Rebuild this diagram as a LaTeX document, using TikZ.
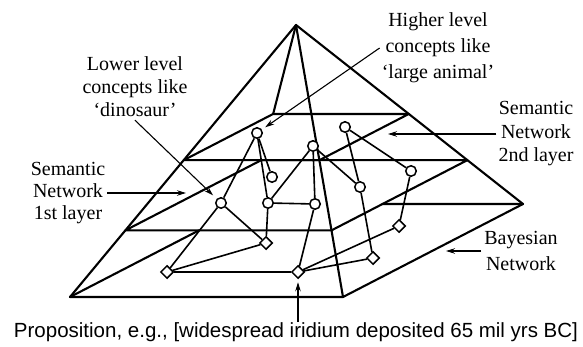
\documentclass[tikz,border=0pt]{standalone}
\usepackage{fontspec}
\setmainfont{Liberation Serif}
\newfontfamily\propfont{Liberation Sans}
\usepackage{tikz}
\usetikzlibrary{shapes.geometric, arrows.meta, calc}

\begin{document}
\begin{tikzpicture}[x=1pt, y=-1pt,
  aresta/.style={line width=2.1pt, line cap=round, line join=round},
  conceito/.style={circle, draw, fill=white, line width=1.5pt, minimum size=10.5pt, inner sep=0pt},
  evidencia/.style={diamond, draw, fill=white, line width=1.5pt, minimum size=13pt, inner sep=0pt},
  ligacao/.style={line width=1.6pt},
  seta/.style={line width=1.1pt, -{Stealth[length=9pt, width=5.5pt]}},
  rotulo/.style={font=\fontsize{20}{23}\selectfont, align=center, inner sep=0pt}]
\useasboundingbox (0,0) rectangle (583,347);

% Pirâmide
\coordinate (topo) at (296,25);
\coordinate (bE) at (70,297);   % base: esquerda
\coordinate (bF) at (343,297);  % base: frente
\coordinate (bD) at (523,204);  % base: direita
\coordinate (bT) at (250,204);  % base: trás
% Camadas (cortes da pirâmide)
\foreach \cam/\fr in {1/0.497, 2/0.755} {
  \coordinate (c\cam E) at ($(topo)!\fr!(bE)$);
  \coordinate (c\cam F) at ($(topo)!\fr!(bF)$);
  \coordinate (c\cam D) at ($(topo)!\fr!(bD)$);
  \coordinate (c\cam T) at ($(topo)!\fr!(bT)$);
}
\draw[aresta] (bE) -- (topo) -- (bD);
\draw[aresta] (topo) -- (bF);
\draw[aresta] (bE) -- (bF) -- (bD);
\draw[aresta] (topo) -- (c1T);  % aresta de trás, só até a 1a camada
\draw[aresta] (c1E) -- (c1T) -- (c1D) -- (c1F) -- cycle;
\draw[aresta] (c2E) -- (c2T) -- (c2D) -- (c2F) -- cycle;
% partes visíveis das arestas de trás da base
\draw[aresta] (bE) -- (intersection of bE--bT and c2E--c2F);
\draw[aresta] (bD) -- (intersection of bD--bT and c2F--c2D);

% Rede semântica - 2a camada
\node[conceito] (s1) at (257,133) {};
\node[conceito] (s2) at (345,127) {};
\node[conceito] (s3) at (313,146) {};
% Rede semântica - 1a camada
\node[conceito] (p1) at (221,203) {};
\node[conceito] (p2) at (268,203) {};
\node[conceito] (p3) at (315,204) {};
\node[conceito] (p4) at (272,177) {};
\node[conceito] (p5) at (360,187) {};
\node[conceito] (p6) at (411,171) {};
% Rede bayesiana
\node[evidencia] (b1) at (167,272) {};
\node[evidencia] (b2) at (266,243) {};
\node[evidencia] (b3) at (298,272) {};
\node[evidencia] (b4) at (373,258) {};
\node[evidencia] (b5) at (399,226) {};

% Ligações
\foreach \de/\para in {s1/p1, s1/p2, s1/p4, s3/p2, s3/p3, s3/p5, s2/p5, s2/p6, p2/p3,
    p1/b1, p1/b2, p2/b2, p3/b3, p5/b4, p6/b5, b1/b2, b1/b3, b3/b4, b3/b5}
  \draw[ligacao] (\de) -- (\para);

% Rótulos
\node[rotulo] (baixo) at (135,87) {Lower level\\concepts like\\`dinosaur'};
\node[rotulo, font=\fontsize{20}{26}\selectfont] (alto) at (438,48) {Higher level\\concepts like\\`large animal'};
\node[rotulo, font=\fontsize{20}{23.5}\selectfont] (sem2) at (536,134) {Semantic\\Network\\2nd layer};
\node[rotulo, font=\fontsize{20}{22}\selectfont] (sem1) at (68,193) {Semantic\\Network\\1st layer};
\node[rotulo, font=\fontsize{20}{26}\selectfont] (bayes) at (521,251) {Bayesian\\Network};
\node[rotulo, font=\propfont\fontsize{20.5}{24}\selectfont] (prop) at (296,332) {Proposition, e.g., [widespread iridium deposited 65 mil yrs BC]};

% Setas dos rótulos
\coordinate (alvo1) at (186,193);
\coordinate (alvo2) at (388,133);
\coordinate (alvoB) at (446,250);
\draw[seta, shorten >=5pt] ([yshift=-3pt]baixo.south) -- (p1);
\draw[seta, shorten >=4pt] ([xshift=-2pt]alto.west) -- (s1);
\draw[seta] ([xshift=-2pt]sem2.west) -- (sem2.west -| alvo2);
\draw[seta] ([xshift=2pt]sem1.east) -- (sem1.east -| alvo1);
\draw[seta] ([xshift=-3pt]bayes.west) -- (bayes.west -| alvoB);
\draw[seta, shorten >=3pt] (prop.north -| b3) -- (b3.south);
\end{tikzpicture}
\end{document}
